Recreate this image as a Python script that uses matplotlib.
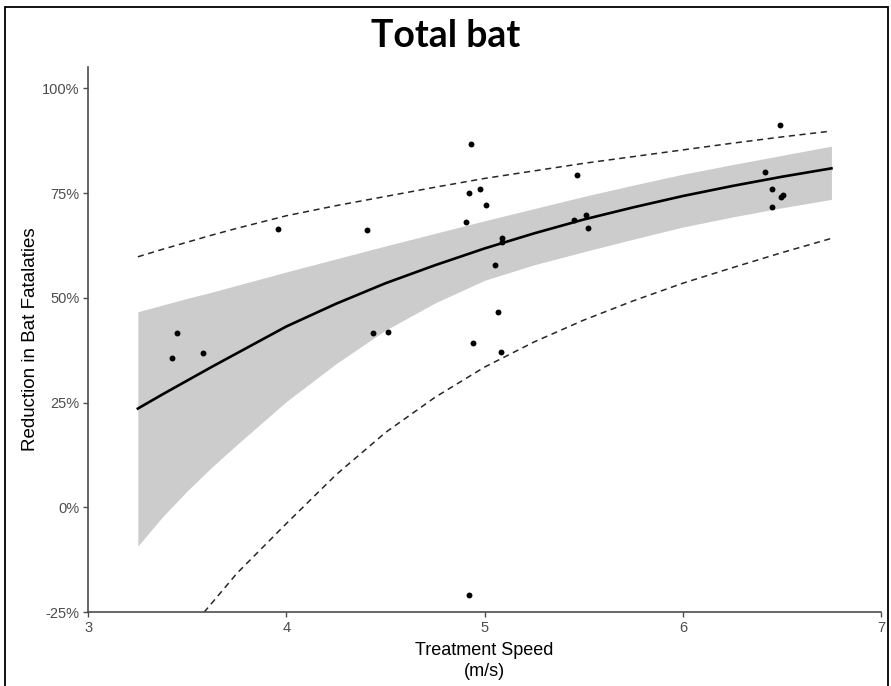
import numpy as np
import matplotlib
matplotlib.use('Agg')
import matplotlib.pyplot as plt
from matplotlib.patches import Rectangle
from matplotlib.ticker import FuncFormatter

# observed points: treatment speed (m/s), reduction in fatalities (%)
speed = [3.42, 3.448, 3.58, 3.959, 4.408, 4.435, 4.514, 4.906, 4.919, 4.922,
         4.929, 4.939, 4.976, 5.006, 5.052, 5.066, 5.081, 5.086, 5.089, 5.452,
         5.467, 5.510, 5.521, 6.414, 6.448, 6.451, 6.490, 6.495, 6.503]
reduction = [35.6, 41.7, 36.8, 66.4, 66.1, 41.7, 41.9, 68.1, 75.0, -20.8,
             86.7, 39.3, 75.9, 72.2, 57.8, 46.6, 37.0, 63.4, 64.2, 68.6,
             79.4, 69.8, 66.7, 80.0, 75.9, 71.7, 91.3, 74.0, 74.6]

# fitted curve, confidence band, prediction interval
fit_x = [3.25, 3.375, 3.5, 3.625, 3.75, 4.0, 4.25, 4.5, 4.75, 5.0, 5.25, 5.5, 5.75, 6.0, 6.25, 6.5, 6.75]
fit_y = [23.6, 27.0, 30.3, 33.6, 36.8, 43.2, 48.6, 53.5, 57.8, 61.8, 65.4, 68.7, 71.6, 74.3, 76.7, 78.9, 80.9]
ci_hi = [46.7, 48.3, 49.9, 51.4, 53.0, 56.2, 59.3, 62.4, 65.4, 68.4, 71.3, 74.2, 76.9, 79.5, 81.8, 84.0, 86.2]
ci_lo = [-9.2, -2.2, 4.0, 9.7, 15.0, 25.3, 34.3, 42.3, 48.8, 54.2, 57.9, 61.0, 64.0, 66.9, 69.3, 71.5, 73.5]
pi_hi = [59.8, 61.6, 63.3, 65.0, 66.6, 69.6, 72.0, 74.2, 76.4, 78.5, 80.3, 82.1, 83.7, 85.3, 86.9, 88.4, 89.8]
pi_lo_x = [3.584, 3.75, 4.0, 4.25, 4.5, 4.75, 5.0, 5.25, 5.5, 5.75, 6.0, 6.25, 6.5, 6.75]
pi_lo = [-25.0, -15.7, -3.8, 7.8, 17.9, 26.3, 33.5, 39.5, 44.7, 49.3, 53.5, 57.2, 60.8, 64.2]

plt.rcParams['font.family'] = ['Liberation Sans', 'DejaVu Sans']

fig = plt.figure(figsize=(8.91, 6.86), dpi=100)
ax = fig.add_axes([88.3/891, 1-612.3/686, (881-88.3)/891, (612.3-66.7)/686])

ax.fill_between(fit_x, ci_lo, ci_hi, color='#cccccc', linewidth=0, zorder=1)
ax.plot(fit_x, fit_y, color='black', linewidth=1.9, zorder=3)
ax.plot(fit_x, pi_hi, color='#262626', linewidth=1.1, dashes=(4, 3), zorder=2)
ax.plot(pi_lo_x, pi_lo, color='#262626', linewidth=1.1, dashes=(4, 3), zorder=2)
ax.scatter(speed, reduction, s=18, color='black', zorder=4, linewidths=0)

ax.set_xlim(3, 7)
ax.set_ylim(-25, 105.15)
ax.set_xticks([3, 4, 5, 6, 7])
ax.set_yticks([-25, 0, 25, 50, 75, 100])
ax.yaxis.set_major_formatter(FuncFormatter(lambda v, p: '%d%%' % v))

for s in ['top', 'right']:
    ax.spines[s].set_visible(False)
for s in ['left', 'bottom']:
    ax.spines[s].set_color('#4d4d4d')
    ax.spines[s].set_linewidth(1.2)
ax.tick_params(colors='#4d4d4d', labelcolor='#4d4d4d', labelsize=10.5, length=3.5, width=1, pad=3)

ax.set_xlabel('Treatment Speed\n(m/s)', fontsize=13, labelpad=5, linespacing=1.3)
ax.set_ylabel('Reduction in Bat Fatalaties', fontsize=13.5, labelpad=2)

fig.text(0.5, 1-36/686, 'Total bat', ha='center', va='center', fontsize=27,
         fontweight='bold', family=['Lato', 'DejaVu Sans'])

# outer frame
fig.patches.append(Rectangle((5/891, -0.01), 883/891, 1-7/686+0.01, transform=fig.transFigure,
                             fill=False, edgecolor='black', linewidth=1.3))

fig.savefig('out.png', dpi=100)
